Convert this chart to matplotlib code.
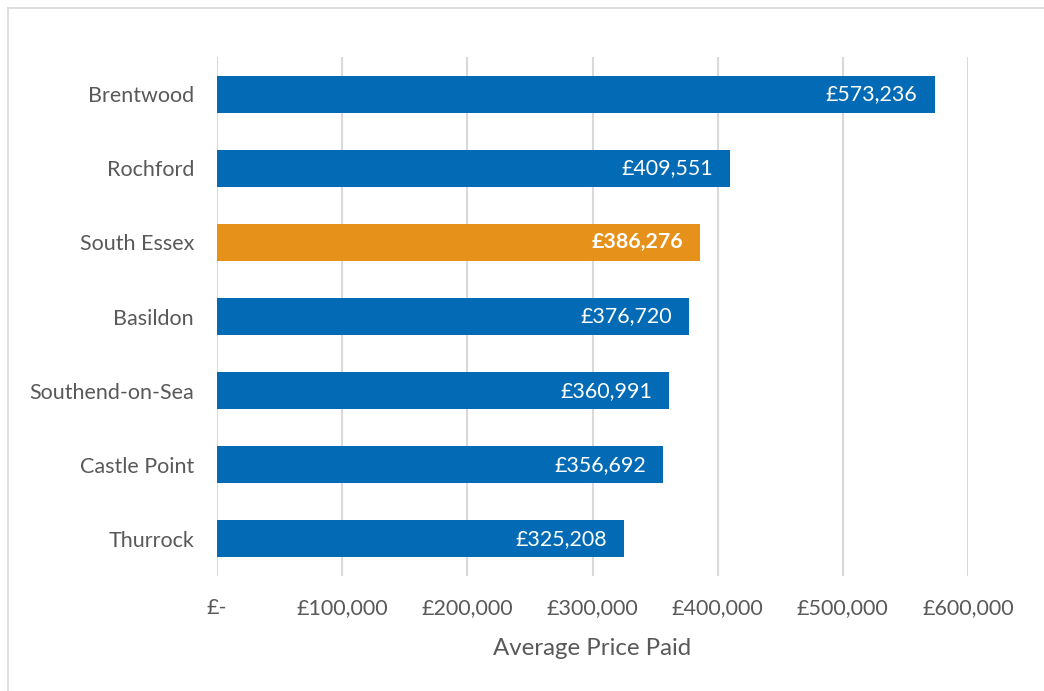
import matplotlib.pyplot as plt
from matplotlib.lines import Line2D

plt.rcParams["font.family"] = ["Lato", "DejaVu Sans"]

areas = ["Brentwood", "Rochford", "South Essex", "Basildon",
         "Southend-on-Sea", "Castle Point", "Thurrock"]
prices = [573236, 409551, 386276, 376720, 360991, 356692, 325208]
highlight = "South Essex"
x_ticks = [0, 100000, 200000, 300000, 400000, 500000, 600000]

blue = "#036BB5"
orange = "#E6911A"
grey_text = "#595959"
grid_col = "#D9D9D9"

fig = plt.figure(figsize=(10.44, 6.91), dpi=100)
ax = fig.add_axes([217 / 1044, 1 - 576 / 691, 751 / 1044, 519 / 691])

pos = list(range(len(areas)))
colors = [orange if a == highlight else blue for a in areas]
bars = ax.barh(pos, prices, height=0.5, color=colors, zorder=3)

for b, a, v in zip(bars, areas, prices):
    ax.text(b.get_width() - 13500, b.get_y() + b.get_height() / 2,
            f"£{v:,}", ha="right", va="center", color="white", fontsize=15.4,
            fontweight="bold" if a == highlight else "normal", zorder=4)

ax.set_ylim(len(areas) - 0.5, -0.5)
ax.set_yticks(pos)
ax.set_yticklabels(areas)
ax.set_xlim(0, 600000)
ax.set_xticks(x_ticks)
ax.set_xticklabels(["£-" if t == 0 else f"£{t:,}" for t in x_ticks])
ax.tick_params(axis="both", length=0, labelsize=15.5, colors=grey_text)
ax.tick_params(axis="y", pad=16.5)
ax.tick_params(axis="x", pad=16)
ax.xaxis.grid(True, color=grid_col, linewidth=1.5, zorder=0)
for s in ax.spines.values():
    s.set_visible(False)
ax.set_xlabel("Average Price Paid", fontsize=17.3, color=grey_text, labelpad=14)

# chart area border (top and left only visible)
fig.add_artist(Line2D([8 / 1044, 8 / 1044], [0, 1 - 8 / 691],
                      color=grid_col, linewidth=1.2))
fig.add_artist(Line2D([8 / 1044, 1], [1 - 8 / 691, 1 - 8 / 691],
                      color=grid_col, linewidth=1.2))

fig.savefig("out.png", dpi=100)
